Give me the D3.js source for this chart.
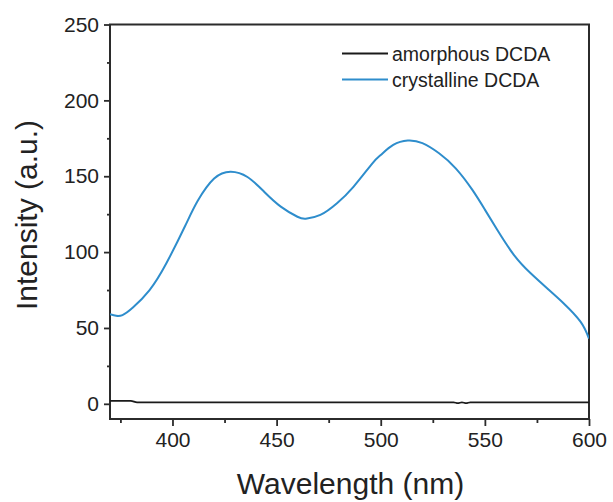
<!DOCTYPE html>
<html><head><meta charset="utf-8">
<script src="https://cdn.jsdelivr.net/npm/d3@7"></script>
<style>
html,body{margin:0;padding:0;background:#fff;}
text{font-family:"Liberation Sans",Arial,sans-serif;fill:#222;}
</style></head>
<body>
<svg id="c" width="613" height="502"></svg>
<script>
const seriesNames = ["amorphous DCDA", "crystalline DCDA"];
const seriesColors = ["#1a1a1a", "#2e8dcc"];
const crystallineWl = [370,373,376,381,389,397,406,412,420,428,436,444,452,460,464,471,479,487,496,500,506,513,520,528,536,544,550,556,564,572,580,588,596,600];
const crystallineI  = [59,58,58.5,63.5,75,92.5,117,133.5,148.5,153,149.5,139.8,130,123.3,122,124.5,132.2,143.2,158.5,164,170.6,173.5,171.8,165.1,155.2,141,128,114.5,98,86,76,66,54,43];
const amorphousWl = [370,380,383,450,535,537,539,541,543,600];
const amorphousI  = [2,2,1,1,1,0.4,1,0.4,1,1];
const xTicks = [400,450,500,550,600];
const yTicks = [0,50,100,150,200,250];
const xLabel = "Wavelength (nm)";
const yLabel = "Intensity (a.u.)";

const svg = d3.select("#c");
const L = 110, R = 589, T = 24.5, B = 419;
const x = d3.scaleLinear().domain([370, 600]).range([L, R]);
const y = d3.scaleLinear().domain([-10, 250]).range([B, T]);

const axisColor = "#2b2b2b";
const xMinor = d3.range(375, 600, 25).filter(v => !xTicks.includes(v));
const yMinor = d3.range(25, 250, 50);

const gx = svg.append("g").attr("transform", `translate(0,${B})`)
  .call(d3.axisBottom(x).tickValues(xTicks).tickSize(7).tickPadding(6).tickSizeOuter(0));
const gxm = svg.append("g").attr("transform", `translate(0,${B})`)
  .call(d3.axisBottom(x).tickValues(xMinor).tickSize(4).tickFormat("").tickSizeOuter(0));
const gy = svg.append("g").attr("transform", `translate(${L},0)`)
  .call(d3.axisLeft(y).tickValues(yTicks).tickSize(6).tickPadding(5).tickSizeOuter(0));
const gym = svg.append("g").attr("transform", `translate(${L},0)`)
  .call(d3.axisLeft(y).tickValues(yMinor).tickSize(3).tickFormat("").tickSizeOuter(0));
[gx, gxm, gy, gym].forEach(g => {
  g.select(".domain").remove();
  g.selectAll("line").attr("stroke", axisColor).attr("stroke-width", 1.8);
  g.selectAll("text").style("font-size", "21px").attr("fill", "#222")
   .style("font-family", '"Liberation Sans",Arial,sans-serif');
});

svg.append("rect").attr("x", L).attr("y", T).attr("width", R - L).attr("height", B - T)
  .attr("fill", "none").attr("stroke", axisColor).attr("stroke-width", 2);

const clip = svg.append("clipPath").attr("id", "clp").append("rect")
  .attr("x", L).attr("y", T).attr("width", R - L).attr("height", B - T);

svg.append("path").datum(d3.zip(amorphousWl, amorphousI))
  .attr("d", d3.line().x(d => x(d[0])).y(d => y(d[1])).curve(d3.curveMonotoneX))
  .attr("fill", "none").attr("stroke", seriesColors[0]).attr("stroke-width", 1.8)
  .attr("clip-path", "url(#clp)");
svg.append("path").datum(d3.zip(crystallineWl, crystallineI))
  .attr("d", d3.line().x(d => x(d[0])).y(d => y(d[1])).curve(d3.curveNatural))
  .attr("fill", "none").attr("stroke", seriesColors[1]).attr("stroke-width", 2)
  .attr("clip-path", "url(#clp)");

const leg = svg.append("g");
seriesNames.forEach((n, i) => {
  const ly = 53.5 + i * 26;
  leg.append("line").attr("x1", 342).attr("x2", 388).attr("y1", ly).attr("y2", ly)
    .attr("stroke", seriesColors[i]).attr("stroke-width", 1.8);
  leg.append("text").attr("x", 392).attr("y", ly + 7.5).text(n).style("font-size", "19.5px");
});

svg.append("text").attr("x", (L + R) / 2 + 1).attr("y", 494).attr("text-anchor", "middle")
  .style("font-size", "30px").text(xLabel);
svg.append("text").attr("transform", `translate(37,215) rotate(-90)`)
  .attr("text-anchor", "middle").style("font-size", "30px").text(yLabel);
</script>
</body></html>
